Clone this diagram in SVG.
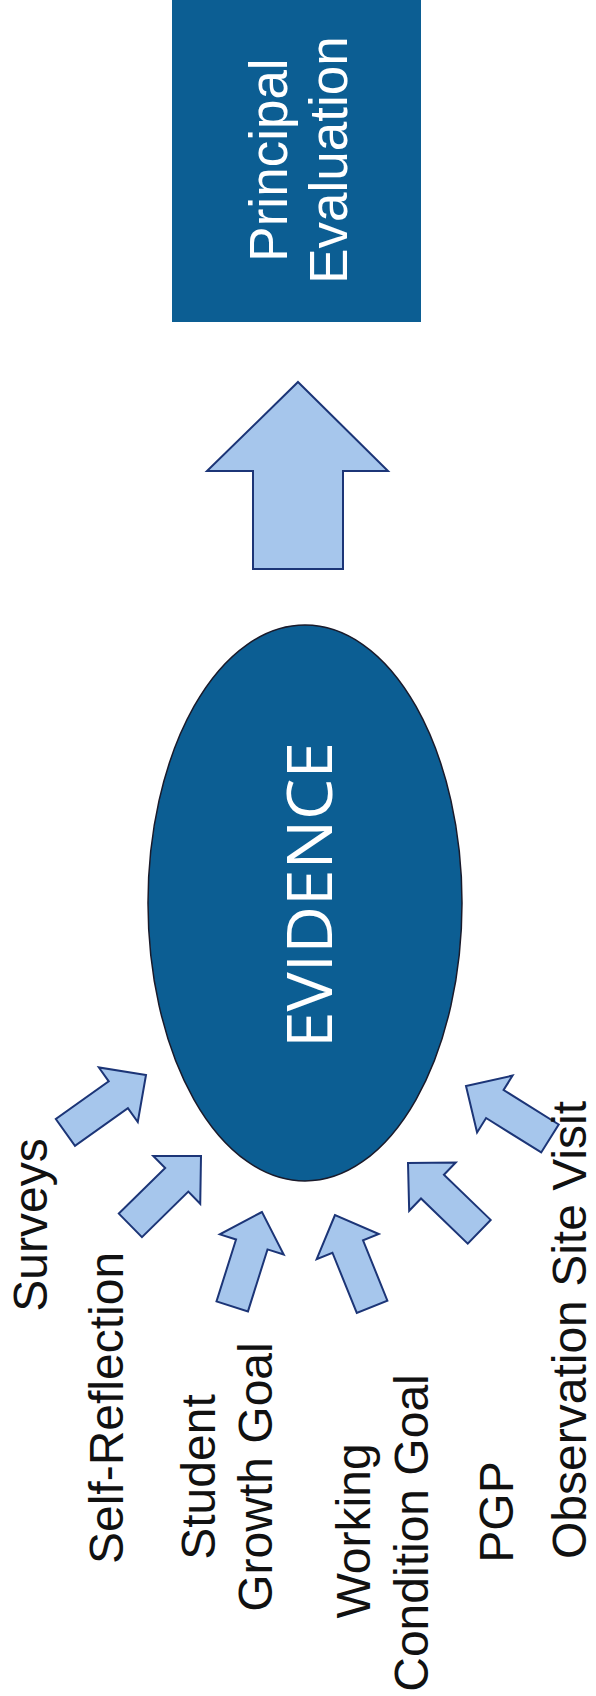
<svg xmlns="http://www.w3.org/2000/svg" xmlns:xlink="http://www.w3.org/1999/xlink" width="596" height="1696" viewBox="0 0 596 1696">
<style>
.lbl{font-family:"Liberation Sans",Arial,sans-serif;font-size:48px;fill:#111;text-anchor:middle}
.wht{font-family:"Liberation Sans",Arial,sans-serif;font-size:53px;fill:#fff;text-anchor:middle}
.ev{font-family:"Open Sans","Liberation Sans",sans-serif;font-size:63px;fill:#fff;text-anchor:middle}
.arr{fill:#a6c6ec;stroke:#1c3577;stroke-width:2;stroke-linejoin:miter}
</style>
<defs>
<path id="sarrow" d="M0,0 L-34,-33.5 L-34,-16.5 L-99,-16.5 L-99,16.5 L-34,16.5 L-34,33.5 Z"/>
</defs>
<rect width="596" height="1696" fill="#fff"/>
<g id="principal-evaluation">
<rect x="172" y="0" width="249" height="322" fill="#0c5e93"/>
<text class="wht" transform="translate(287,160) rotate(-90)">Principal</text>
<text class="wht" transform="translate(347,160) rotate(-90)">Evaluation</text>
</g>
<g id="evidence">
<ellipse cx="305" cy="903" rx="157" ry="278" fill="#0c5e93" stroke="#1a1a2a" stroke-width="1.5"/>
<text class="ev" transform="translate(332,895) rotate(-90)" textLength="306" lengthAdjust="spacingAndGlyphs">EVIDENCE</text>
</g>
<g id="connectors">
<path class="arr" d="M298,382 L388,471 L343,471 L343,569 L253,569 L253,471 L207,471 Z"/>
<use xlink:href="#sarrow" href="#sarrow" class="arr" transform="translate(146,1075) rotate(-35.5)"/>
<use xlink:href="#sarrow" href="#sarrow" class="arr" transform="translate(201,1156) rotate(-44.5)"/>
<use xlink:href="#sarrow" href="#sarrow" class="arr" transform="translate(262,1212) rotate(-72.5)"/>
<use xlink:href="#sarrow" href="#sarrow" class="arr" transform="translate(335,1215) rotate(-112)"/>
<use xlink:href="#sarrow" href="#sarrow" class="arr" transform="translate(408,1163) rotate(-136)"/>
<use xlink:href="#sarrow" href="#sarrow" class="arr" transform="translate(466,1086) rotate(-148)"/>
</g>
<g id="surveys"><text class="lbl" transform="translate(47,1225) rotate(-90)">Surveys</text></g>
<g id="self-reflection"><text class="lbl" transform="translate(123,1408) rotate(-90)">Self-Reflection</text></g>
<g id="student-growth-goal">
<text class="lbl" transform="translate(215,1477) rotate(-90)">Student</text>
<text class="lbl" transform="translate(272,1477) rotate(-90)">Growth Goal</text>
</g>
<g id="working-condition-goal">
<text class="lbl" transform="translate(370,1531) rotate(-90)">Working</text>
<text class="lbl" transform="translate(428,1533) rotate(-90)">Condition Goal</text>
</g>
<g id="pgp"><text class="lbl" transform="translate(513,1512) rotate(-90)">PGP</text></g>
<g id="observation-site-visit"><text class="lbl" transform="translate(586,1330) rotate(-90)">Observation Site Visit</text></g>
</svg>
